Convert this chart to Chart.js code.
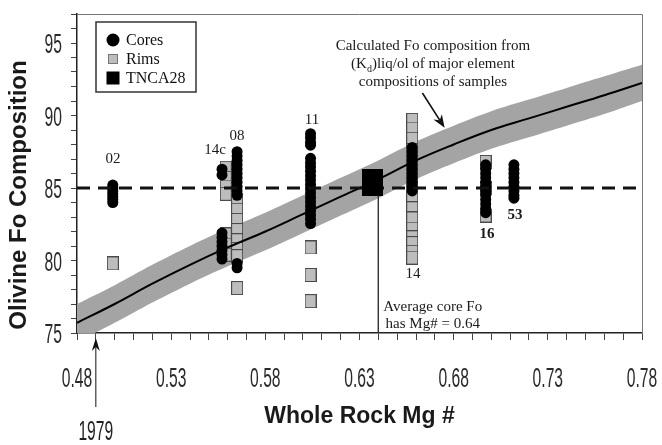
<!DOCTYPE html>
<html><head><meta charset="utf-8">
<script src="https://cdn.jsdelivr.net/npm/chart.js@4.4.1/dist/chart.umd.min.js"></script>
<style>html,body{margin:0;padding:0;background:#fff}canvas{display:block}</style>
</head><body>
<canvas id="c" width="662" height="445"></canvas>
<script>
// ---------------- data ----------------
const xTickLabels = ['0.48','0.53','0.58','0.63','0.68','0.73','0.78'];
const yTickLabels = [75, 80, 85, 90, 95];
const legendLabels = ['Cores', 'Rims', 'TNCA28'];

const mg02 = 0.499;
const mg14cCore = 0.557;
const mg14cRim = 0.559;
const mg08 = 0.565;
const mg11 = 0.604;
const mgTNCA28 = 0.637;
const mg14 = 0.658;
const mg16 = 0.697;
const mg53 = 0.712;

const cores02 = [85.2, 85.0, 84.8, 84.6, 84.4, 84.2, 84.0];
const rims02 = [79.8];
const cores14c = [86.3, 85.9];
const rims14c = [86.4, 85.7, 85.1, 84.6];
const cores14cLow = [81.9, 81.6, 81.3, 81.0, 80.7, 80.4, 80.1];
const rims14cLow = [81.8, 81.1, 80.4];
const cores08 = [87.5, 87.2, 86.9, 86.6, 86.3, 86.0, 85.7, 85.4, 85.1, 84.8, 84.5, 79.8, 79.5];
const rims08 = [84.2, 83.5, 82.8, 82.1, 81.4, 80.8, 80.3, 78.1];
const cores11 = [88.75, 88.45, 88.15, 87.95, 87.05, 86.75, 86.45, 86.15, 85.85, 85.55, 85.25, 84.95, 84.65, 84.35, 84.05, 83.75, 83.45, 83.15, 82.85, 82.55];
const rims11 = [80.9, 79.0, 77.2];
const foTNCA28 = [85.4];
const cores14 = [87.8, 87.5, 87.2, 86.9, 86.6, 86.3, 86.0, 85.7, 85.4, 85.1, 84.8];
const rims14 = [89.7, 89.1, 88.4, 87.6, 86.8, 86.0, 85.2, 84.4, 83.6, 82.9, 82.2, 81.6, 81.2, 80.6, 80.2];
const cores16 = [86.6, 86.3, 86.0, 85.7, 85.4, 85.1, 84.8, 84.5, 84.2, 83.9, 83.6, 83.3];
const rims16 = [86.8, 85.0, 83.1];
const cores53 = [86.6, 86.3, 86.0, 85.7, 85.4, 85.1, 84.8, 84.5, 84.3];

const calcMg = [0.48, 0.50, 0.52, 0.54, 0.56, 0.58, 0.60, 0.62, 0.64, 0.66, 0.68, 0.70, 0.72, 0.74, 0.76, 0.78];
const calcFo = [75.7, 77.0, 78.4, 79.7, 80.9, 82.0, 83.2, 84.4, 85.6, 86.9, 88.0, 89.0, 89.8, 90.6, 91.4, 92.25];
const calcFoUpper = [77.0, 78.3, 79.7, 81.0, 82.2, 83.3, 84.5, 85.7, 86.9, 88.2, 89.3, 90.3, 91.1, 91.9, 92.7, 93.5];
const calcFoLower = [74.4, 75.7, 77.1, 78.4, 79.6, 80.7, 81.9, 83.1, 84.3, 85.6, 86.7, 87.7, 88.5, 89.3, 90.1, 91.0];

const avgCoreFo = 85;
const avgCoreMg = 0.64;
const mg1979 = 0.49;

// ---------------- helpers ----------------
const pts = (x, arr) => arr.map(v => ({x: x, y: v}));
const zip = (xs, ys) => xs.map((v, i) => ({x: v, y: ys[i]}));

function makeRect(w, h, fill, stroke) {
  const c = document.createElement('canvas');
  c.width = w; c.height = h;
  const g = c.getContext('2d');
  g.fillStyle = fill; g.fillRect(0, 0, w, h);
  if (stroke) { g.strokeStyle = stroke; g.lineWidth = 1; g.strokeRect(0.5, 0.5, w - 1, h - 1); }
  return c;
}
const rimImg = makeRect(12, 14, '#bdbdbd', '#4a4a4a');
const tncaImg = makeRect(21, 27, '#000', null);

const coreData = [].concat(
  pts(mg02, cores02), pts(mg14cCore, cores14c), pts(mg14cCore, cores14cLow),
  pts(mg08, cores08), pts(mg11, cores11), pts(mg14, cores14),
  pts(mg16, cores16), pts(mg53, cores53));
const rimData = [].concat(
  pts(mg02, rims02), pts(mg14cRim, rims14c), pts(mg14cRim, rims14cLow),
  pts(mg08, rims08), pts(mg11, rims11), pts(mg14, rims14), pts(mg16, rims16));

// ---------------- annotation plugin ----------------
function arrow(ctx, x1, y1, x2, y2, head, wid) {
  const ang = Math.atan2(y2 - y1, x2 - x1);
  ctx.beginPath(); ctx.moveTo(x1, y1);
  ctx.lineTo(x2 - Math.cos(ang) * head * 0.7, y2 - Math.sin(ang) * head * 0.7); ctx.stroke();
  ctx.beginPath();
  ctx.moveTo(x2, y2);
  ctx.lineTo(x2 - head * Math.cos(ang) + wid * Math.sin(ang), y2 - head * Math.sin(ang) - wid * Math.cos(ang));
  ctx.lineTo(x2 - head * 0.7 * Math.cos(ang), y2 - head * 0.7 * Math.sin(ang));
  ctx.lineTo(x2 - head * Math.cos(ang) - wid * Math.sin(ang), y2 - head * Math.sin(ang) + wid * Math.cos(ang));
  ctx.closePath(); ctx.fill();
}
const NUM_FONT = '27px "Liberation Sans", Arial, sans-serif';
function condText(ctx, t, x, y, align) {
  ctx.save();
  ctx.translate(x, y); ctx.scale(0.58, 1);
  ctx.font = NUM_FONT; ctx.textAlign = align; ctx.textBaseline = 'alphabetic';
  ctx.fillText(t, 0, 0);
  ctx.restore();
}

const annot = {
  id: 'annot',
  afterDraw(chart) {
    const {ctx, scales: {x, y}} = chart;
    const X = v => x.getPixelForValue(v), Y = v => y.getPixelForValue(v);
    ctx.save();
    // frame top / right
    const fr = Math.round(X(x.max)) + 0.5, ft = Math.round(Y(y.max)) + 0.5;
    ctx.strokeStyle = '#777'; ctx.lineWidth = 1;
    ctx.beginPath();
    ctx.moveTo(X(x.min), ft); ctx.lineTo(fr, ft); ctx.lineTo(fr, Y(y.min));
    ctx.stroke();

    // tick labels (condensed numerals) at the library's tick positions
    ctx.fillStyle = '#2a2a2a';
    x.ticks.forEach(t => {
      const s = Number(t.value).toFixed(2);
      if (xTickLabels.includes(s)) condText(ctx, s, X(t.value), Y(y.min) + 54, 'center');
    });
    y.ticks.forEach(t => {
      const r = Math.round(t.value);
      if (Math.abs(t.value - r) < 1e-6 && yTickLabels.includes(r)) condText(ctx, String(r), X(x.min) - 15, Y(t.value) + 10, 'right');
    });

    // y-axis title
    ctx.save();
    ctx.translate(19, 195); ctx.rotate(-Math.PI / 2);
    ctx.fillStyle = '#1a1a1a';
    ctx.font = 'bold 24px "Liberation Sans", Arial, sans-serif';
    ctx.textAlign = 'center'; ctx.textBaseline = 'middle';
    ctx.fillText('Olivine Fo Composition', 0, 0);
    ctx.restore();

    // legend (from dataset labels)
    const lx = 96, ly = 22, lw = 100, lh = 70;
    ctx.fillStyle = '#fff'; ctx.fillRect(lx, ly, lw, lh);
    ctx.strokeStyle = '#333'; ctx.lineWidth = 1.5; ctx.strokeRect(lx, ly, lw, lh);
    const items = legendLabels.map(l => chart.data.datasets.find(d => d.label === l));
    ctx.font = '16px "Liberation Serif", "Times New Roman", serif';
    ctx.textAlign = 'left'; ctx.textBaseline = 'middle';
    items.forEach((d, i) => {
      const cy = ly + 18 + i * 19, cx = lx + 17;
      if (d.legend === 'circle') {
        ctx.fillStyle = '#000'; ctx.beginPath(); ctx.arc(cx, cy, 6.5, 0, Math.PI * 2); ctx.fill();
      } else if (d.legend === 'rim') {
        ctx.fillStyle = '#bdbdbd'; ctx.fillRect(cx - 5, cy - 5, 10, 10);
        ctx.strokeStyle = '#777'; ctx.lineWidth = 1; ctx.strokeRect(cx - 4.5, cy - 4.5, 9, 9);
      } else {
        ctx.fillStyle = '#000'; ctx.fillRect(cx - 6.5, cy - 6.5, 13, 13);
      }
      ctx.fillStyle = '#111';
      ctx.fillText(d.label, lx + 30, cy + 1);
    });

    // sample labels
    const lab = (t, mx, fo, bold) => {
      ctx.font = (bold ? 'bold ' : '') + '15px "Liberation Serif", "Times New Roman", serif';
      ctx.fillStyle = '#1a1a1a'; ctx.textAlign = 'center'; ctx.textBaseline = 'middle';
      ctx.fillText(t, X(mx), Y(fo));
    };
    lab('02', 0.4991, 87.0);
    lab('14c', 0.5533, 87.62);
    lab('08', 0.5650, 88.56);
    lab('11', 0.6048, 89.71);
    lab('14', 0.6584, 79.05);
    lab('16', 0.6977, 81.8, true);
    lab('53', 0.7126, 83.1, true);

    // callout text
    ctx.font = '15px "Liberation Serif", "Times New Roman", serif';
    ctx.fillStyle = '#1a1a1a'; ctx.textBaseline = 'middle';
    const cx = X(0.669);
    ctx.textAlign = 'center';
    ctx.fillText('Calculated Fo composition from', cx, Y(94.77));
    const p1 = '(K', p2 = 'd', p3 = ')liq/ol of major element';
    const w1 = ctx.measureText(p1).width, w3 = ctx.measureText(p3).width;
    ctx.font = '10px "Liberation Serif", "Times New Roman", serif';
    const w2 = ctx.measureText(p2).width;
    const sx = cx - (w1 + w2 + w3) / 2;
    const l2y = Y(93.56);
    ctx.textAlign = 'left';
    ctx.font = '15px "Liberation Serif", "Times New Roman", serif';
    ctx.fillText(p1, sx, l2y);
    ctx.font = '10px "Liberation Serif", "Times New Roman", serif';
    ctx.fillText(p2, sx + w1, l2y + 5);
    ctx.font = '15px "Liberation Serif", "Times New Roman", serif';
    ctx.fillText(p3, sx + w1 + w2, l2y);
    ctx.textAlign = 'center';
    ctx.fillText('compositions of samples', cx, Y(92.34));
    ctx.strokeStyle = '#111'; ctx.fillStyle = '#111'; ctx.lineWidth = 1.6;
    arrow(ctx, X(0.6634), Y(91.55), X(0.6752), Y(89.15), 13, 5);

    // average core text
    ctx.fillStyle = '#1a1a1a';
    ctx.font = '15px "Liberation Serif", "Times New Roman", serif';
    ctx.fillText('Average core Fo', X(0.6689), Y(76.82));
    ctx.fillText('has Mg# = 0.64', X(0.6689), Y(75.61));

    // 1979 arrow below the axis
    const ax = X(mg1979), ab = Y(y.min);
    ctx.strokeStyle = '#111'; ctx.fillStyle = '#111'; ctx.lineWidth = 1;
    arrow(ctx, ax, ab + 74, ax, ab + 5, 13, 4);
    ctx.fillStyle = '#222';
    condText(ctx, '1979', ax, ab + 107, 'center');
    ctx.restore();
  }
};

// ---------------- chart ----------------
const noPad = s => { s.paddingLeft = 0; s.paddingRight = 0; s.paddingTop = 0; s.paddingBottom = 0; };
new Chart(document.getElementById('c'), {
  type: 'scatter',
  data: {
    datasets: [
      {label: 'TNCA28', legend: 'square', data: pts(mgTNCA28, foTNCA28), pointStyle: tncaImg, pointRadius: 13, order: 1},
      {label: 'avg', type: 'line', data: [{x: avgCoreMg, y: foTNCA28[0]}, {x: avgCoreMg, y: 75}],
       borderColor: '#333', borderWidth: 1, pointRadius: 0, fill: false, order: 2},
      {label: 'Fo = 85', type: 'line', data: [{x: 0.48, y: avgCoreFo}, {x: 0.78, y: avgCoreFo}],
       borderColor: '#111', borderWidth: 3, borderDash: [13, 8], pointRadius: 0, fill: false, order: 3},
      {label: 'Calculated', type: 'line', data: zip(calcMg, calcFo),
       borderColor: '#000', borderWidth: 2, tension: 0.4, pointRadius: 0, fill: false, order: 4},
      {label: 'Cores', legend: 'circle', data: coreData, pointStyle: 'circle', pointRadius: 5.5,
       backgroundColor: '#000', borderColor: '#000', borderWidth: 0, order: 5},
      {label: 'Rims', legend: 'rim', data: rimData, pointStyle: rimImg, pointRadius: 7, order: 6},
      {label: 'upper', type: 'line', data: zip(calcMg, calcFoUpper), borderWidth: 0, borderColor: 'rgba(0,0,0,0)',
       backgroundColor: '#a4a4a4', tension: 0.4, pointRadius: 0, fill: '+1', order: 10},
      {label: 'lower', type: 'line', data: zip(calcMg, calcFoLower), borderWidth: 0, borderColor: 'rgba(0,0,0,0)',
       tension: 0.4, pointRadius: 0, fill: false, order: 11}
    ]
  },
  options: {
    responsive: false,
    animation: false,
    devicePixelRatio: 1,
    events: [],
    layout: {padding: {left: 0, top: 6, right: 0, bottom: 0}},
    plugins: {legend: {display: false}, tooltip: {enabled: false}},
    scales: {
      x: {
        type: 'linear', position: 'bottom', min: 0.48, max: 0.78,
        afterFit: s => { s.height = 112; noPad(s); },
        border: {display: true, color: '#222', width: 1.5},
        grid: {drawOnChartArea: false, drawTicks: true, tickLength: 7, color: '#444'},
        ticks: {display: false, stepSize: 0.01, maxTicksLimit: 100, autoSkip: false, maxRotation: 0},
        title: {display: true, text: 'Whole Rock Mg #', color: '#1a1a1a',
          font: {family: '"Liberation Sans", Arial, sans-serif', size: 23, weight: 'bold'},
          padding: {top: 0, bottom: 15}}
      },
      y: {
        position: 'left', min: 75, max: 97,
        afterFit: s => { s.width = 77; noPad(s); },
        border: {display: true, color: '#222', width: 1.5},
        grid: {drawOnChartArea: false, drawTicks: true, tickLength: 6, color: '#444'},
        ticks: {display: false, stepSize: 1, maxTicksLimit: 100, autoSkip: false}
      },
      yRight: {
        type: 'linear', position: 'right', min: 75, max: 97,
        afterFit: s => { s.width = 20; noPad(s); },
        border: {display: false}, grid: {display: false}, ticks: {display: false}
      }
    }
  },
  plugins: [annot]
});
</script>
</body></html>
